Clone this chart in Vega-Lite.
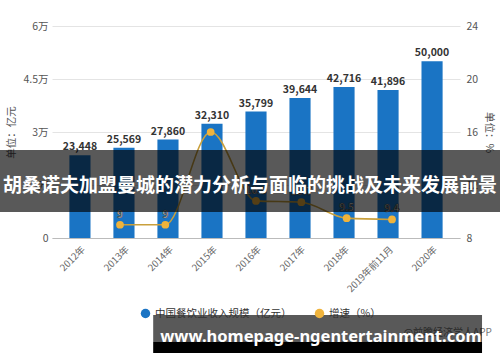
{
  "$schema": "https://vega.github.io/schema/vega-lite/v6.json",
  "width": 408,
  "height": 212,
  "autosize": "none",
  "padding": {"left": 52, "top": 26, "right": 40, "bottom": 124},
  "config": {
    "font": "Noto Sans CJK SC",
    "view": {"stroke": null},
    "axis": {"labelColor": "#555555", "labelFontSize": 10.5, "titleColor": "#555555", "titleFontSize": 10.5, "titleFontWeight": "normal"}
  },
  "resolve": {"scale": {"y": "independent", "x": "independent"}},
  "layer": [
    {
      "data": {"values": [
        {"year": "2012年", "value": 23448, "series": "中国餐饮业收入规模（亿元）"},
        {"year": "2013年", "value": 25569, "series": "中国餐饮业收入规模（亿元）"},
        {"year": "2014年", "value": 27860, "series": "中国餐饮业收入规模（亿元）"},
        {"year": "2015年", "value": 32310, "series": "中国餐饮业收入规模（亿元）"},
        {"year": "2016年", "value": 35799, "series": "中国餐饮业收入规模（亿元）"},
        {"year": "2017年", "value": 39644, "series": "中国餐饮业收入规模（亿元）"},
        {"year": "2018年", "value": 42716, "series": "中国餐饮业收入规模（亿元）"},
        {"year": "2019年前11月", "value": 41896, "series": "中国餐饮业收入规模（亿元）"},
        {"year": "2020年", "value": 50000, "series": "中国餐饮业收入规模（亿元）"}
      ]},
      "encoding": {
        "x": {"field": "year", "type": "ordinal", "sort": null,
              "scale": {"paddingInner": 0.52, "paddingOuter": 0.395},
              "axis": {"title": null, "labelAngle": -45, "labelFontSize": 9.5, "labelColor": "#666666", "domainColor": "#bbbbbb", "ticks": false, "labelPadding": 6}},
        "y": {"field": "value", "type": "quantitative",
              "scale": {"domain": [0, 60000]},
              "axis": {"title": "单位：亿元", "values": [0, 15000, 30000, 45000, 60000],
                       "labelExpr": "datum.value == 0 ? '0' : (datum.value / 10000) + '万'",
                       "domain": false, "ticks": false, "gridColor": "#e4e4e4", "labelPadding": 4, "titlePadding": 6}}
      },
      "layer": [
        {"mark": {"type": "bar"},
         "encoding": {"color": {"field": "series", "type": "nominal",
            "scale": {"domain": ["中国餐饮业收入规模（亿元）", "增速（%）"], "range": ["#1a74c4", "#efb33c"]},
            "legend": {"orient": "none", "legendX": 88, "legendY": 282, "direction": "horizontal", "title": null,
                       "symbolType": "circle", "symbolSize": 90, "labelFontSize": 10.5, "labelColor": "#333333", "columnPadding": 22}}}},
        {"mark": {"type": "text", "dy": -8, "fontWeight": "bold", "fontSize": 10.5, "color": "#333333"},
         "encoding": {"text": {"field": "value", "type": "quantitative", "format": ","}}}
      ]
    },
    {
      "data": {"values": [
        {"year": "2013年", "growth": 9, "series": "增速（%）"},
        {"year": "2014年", "growth": 9, "series": "增速（%）"},
        {"year": "2015年", "growth": 16, "series": "增速（%）"},
        {"year": "2016年", "growth": 10.8, "series": "增速（%）"},
        {"year": "2017年", "growth": 10.7, "series": "增速（%）"},
        {"year": "2018年", "growth": 9.5, "series": "增速（%）"},
        {"year": "2019年前11月", "growth": 9.4, "series": "增速（%）"}
      ]},
      "encoding": {
        "x": {"field": "year", "type": "ordinal", "sort": null,
              "scale": {"domain": ["2012年", "2013年", "2014年", "2015年", "2016年", "2017年", "2018年", "2019年前11月", "2020年"], "paddingInner": 0.52, "paddingOuter": 0.395},
              "axis": null},
        "y": {"field": "growth", "type": "quantitative",
              "scale": {"domain": [8, 24]},
              "axis": {"orient": "right", "title": "单位：%", "values": [8, 12, 16, 20, 24], "grid": false, "domain": false, "ticks": false, "labelPadding": 6, "titlePadding": 6}}
      },
      "layer": [
        {"mark": {"type": "line", "interpolate": "monotone", "color": "#c9a03c", "strokeWidth": 1.6}},
        {"mark": {"type": "point", "filled": true, "size": 60, "opacity": 1},
         "encoding": {"color": {"field": "series", "type": "nominal"}}},
        {"transform": [{"filter": "datum.growth != 16"}],
         "mark": {"type": "text", "dy": -10, "fontSize": 10, "fontWeight": "bold", "color": "#ffffff", "stroke": "#444444", "strokeWidth": 0.7},
         "encoding": {"text": {"field": "growth", "type": "quantitative", "format": ".1~f"}}}
      ]
    },
    {
      "layer": [
        {"data": {"values": [{"label": "@前瞻经济学人APP", "px": 1.078, "py": -26887}]},
         "mark": {"type": "text", "align": "right", "fontSize": 10, "color": "#777777"},
         "encoding": {"x": {"field": "px", "type": "quantitative", "scale": {"domain": [0, 1]}, "axis": null},
                      "y": {"field": "py", "type": "quantitative", "scale": {"domain": [0, 60000]}, "axis": null},
                      "text": {"field": "label"}}},
        {"data": {"values": [{"x0": -0.13, "x1": 1.1, "y0": 7358, "y1": 24906}]},
         "mark": {"type": "rect", "color": "#000000", "opacity": 0.65},
         "encoding": {"x": {"field": "x0", "type": "quantitative"}, "x2": {"field": "x1"},
                      "y": {"field": "y0", "type": "quantitative"}, "y2": {"field": "y1"}}},
        {"data": {"values": [{"x0": 0.248, "x1": 1.054, "y0": -29434, "y1": -21792}]},
         "mark": {"type": "rect", "color": "#000000", "opacity": 0.65},
         "encoding": {"x": {"field": "x0", "type": "quantitative"}, "x2": {"field": "x1"},
                      "y": {"field": "y0", "type": "quantitative"}, "y2": {"field": "y1"}}},
        {"data": {"values": [{"x0": 0.248, "x1": 1.054, "y0": -32547, "y1": -29434}]},
         "mark": {"type": "rect", "color": "#000000", "opacity": 1},
         "encoding": {"x": {"field": "x0", "type": "quantitative"}, "x2": {"field": "x1"},
                      "y": {"field": "y0", "type": "quantitative"}, "y2": {"field": "y1"}}},
        {"data": {"values": [{"label": "胡桑诺夫加盟曼城的潜力分析与面临的挑战及未来发展前景", "px": 0.485, "py": 14700}]},
         "mark": {"type": "text", "fontSize": 19, "fontWeight": "bold", "color": "#ffffff", "baseline": "middle"},
         "encoding": {"x": {"field": "px", "type": "quantitative"}, "y": {"field": "py", "type": "quantitative"}, "text": {"field": "label"}}},
        {"data": {"values": [{"label": "www.homepage-ngentertainment.com", "px": 0.659, "py": -29300}]},
         "mark": {"type": "text", "font": "Noto Sans", "fontSize": 16.5, "fontWeight": "bold", "color": "#ffffff", "baseline": "alphabetic"},
         "encoding": {"x": {"field": "px", "type": "quantitative"}, "y": {"field": "py", "type": "quantitative"}, "text": {"field": "label"}}}
      ]
    }
  ]
}
